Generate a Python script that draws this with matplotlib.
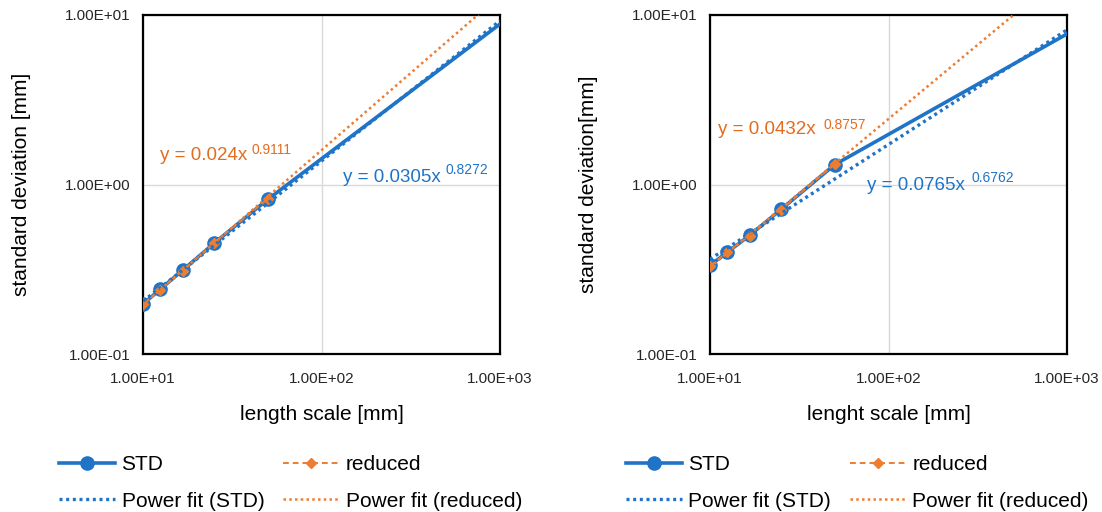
import matplotlib
matplotlib.use("Agg")
import matplotlib.pyplot as plt
import numpy as np

plt.rcParams['font.family'] = ['Liberation Sans', 'DejaVu Sans']

BLUE = "#1F74C8"
ORANGE = "#ED7D31"
ORANGE_TXT = "#E36C1E"

# length scale [mm]
length = [10, 12.5, 16.67, 25, 50, 1000]
length_red = [10, 12.5, 16.67, 25, 50]

# left panel
std_left = [0.197, 0.241, 0.312, 0.45, 0.817, 8.85]
red_left = [0.196, 0.240, 0.310, 0.452, 0.822]
fit_std_left = (0.0305, 0.8272)
fit_red_left = (0.024, 0.9111)

# right panel
std_right = [0.334, 0.398, 0.501, 0.713, 1.31, 7.73]
red_right = [0.330, 0.400, 0.500, 0.712, 1.32]
fit_std_right = (0.0765, 0.6762)
fit_red_right = (0.0432, 0.8757)

fit_x = np.array([10, 1000])

W, H = 1102, 512
fig = plt.figure(figsize=(W / 100, H / 100), dpi=100)


def px(x, y):
    return x / W, 1 - y / H


def panel(left, std, red, fs, fr, xlabel, ylabel):
    ax = fig.add_axes([left / W, 1 - 354 / H, 357 / W, 339 / H])
    ax.set_xscale('log')
    ax.set_yscale('log')
    ax.set_xlim(10, 1000)
    ax.set_ylim(0.1, 10)

    h_std, = ax.plot(length[:5], std[:5], '-o', color=BLUE, lw=2.6, ms=9.5,
                     label='STD', zorder=3)
    ax.plot(length[4:], std[4:], '-', color=BLUE, lw=2.6, zorder=3)
    h_red, = ax.plot(length_red, red, '--D', color=ORANGE, lw=1.4, ms=5.2,
                     dashes=(3, 2), label='reduced', zorder=4)
    h_fs, = ax.plot(fit_x, fs[0] * fit_x ** fs[1], color=BLUE, lw=2.4,
                    linestyle=(0, (0.9, 1.1)), label='Power fit (STD)', zorder=5)
    h_fr, = ax.plot(fit_x, fr[0] * fit_x ** fr[1], color=ORANGE, lw=1.8,
                    linestyle=(0, (1, 1.3)), label='Power fit (reduced)', zorder=5)

    ax.set_xticks([10, 100, 1000])
    ax.set_yticks([0.1, 1, 10])
    ax.set_xticklabels(['1.00E+01', '1.00E+02', '1.00E+03'])
    ax.set_yticklabels(['1.00E-01', '1.00E+00', '1.00E+01'])
    ax.minorticks_off()
    ax.tick_params(length=0, labelsize=11, colors='#262626')
    ax.tick_params(axis='x', pad=13)
    ax.tick_params(axis='y', pad=9)
    ax.grid(True, color='#D9D9D9', lw=1)
    ax.set_axisbelow(True)
    for s in ax.spines.values():
        s.set_color('black')
        s.set_linewidth(1.6)

    ax.set_xlabel(xlabel, fontsize=15)
    ax.set_ylabel(ylabel, fontsize=15)
    ax.xaxis.set_label_coords(0.5, -0.15)
    ax.yaxis.set_label_coords(-0.315, 0.5)

    # legend fills column by column: STD / fit (STD), then reduced / fit (reduced)
    handles = [h_std, h_fs, h_red, h_fr]
    fig.legend(handles, [h.get_label() for h in handles], ncol=2,
               loc='upper left', bbox_to_anchor=px(left - 84, 455),
               frameon=False, fontsize=15, handlelength=2.7,
               handletextpad=0.3, columnspacing=0.9, labelspacing=0.85,
               borderpad=0, borderaxespad=0)
    return ax


def eq_label(x, y, coef, exp, color, sx, sy):
    fig.text(*px(x, y), "y = %sx" % coef, color=color, fontsize=13.5,
             ha='left', va='center')
    fig.text(*px(sx, sy), exp, color=color, fontsize=10,
             ha='left', va='center')


panel(143, std_left, red_left, fit_std_left, fit_red_left,
      'length scale [mm]', 'standard deviation [mm]')
panel(710, std_right, red_right, fit_std_right, fit_red_right,
      'lenght scale [mm]', 'standard deviation[mm]')

eq_label(160, 156, '0.024', '0.9111', ORANGE_TXT, 252, 150)
eq_label(343, 177, '0.0305', '0.8272', BLUE, 446, 170)
eq_label(718, 130, '0.0432', '0.8757', ORANGE_TXT, 823, 125)
eq_label(867, 186, '0.0765', '0.6762', BLUE, 971, 178)

fig.savefig('out.png', dpi=100)
